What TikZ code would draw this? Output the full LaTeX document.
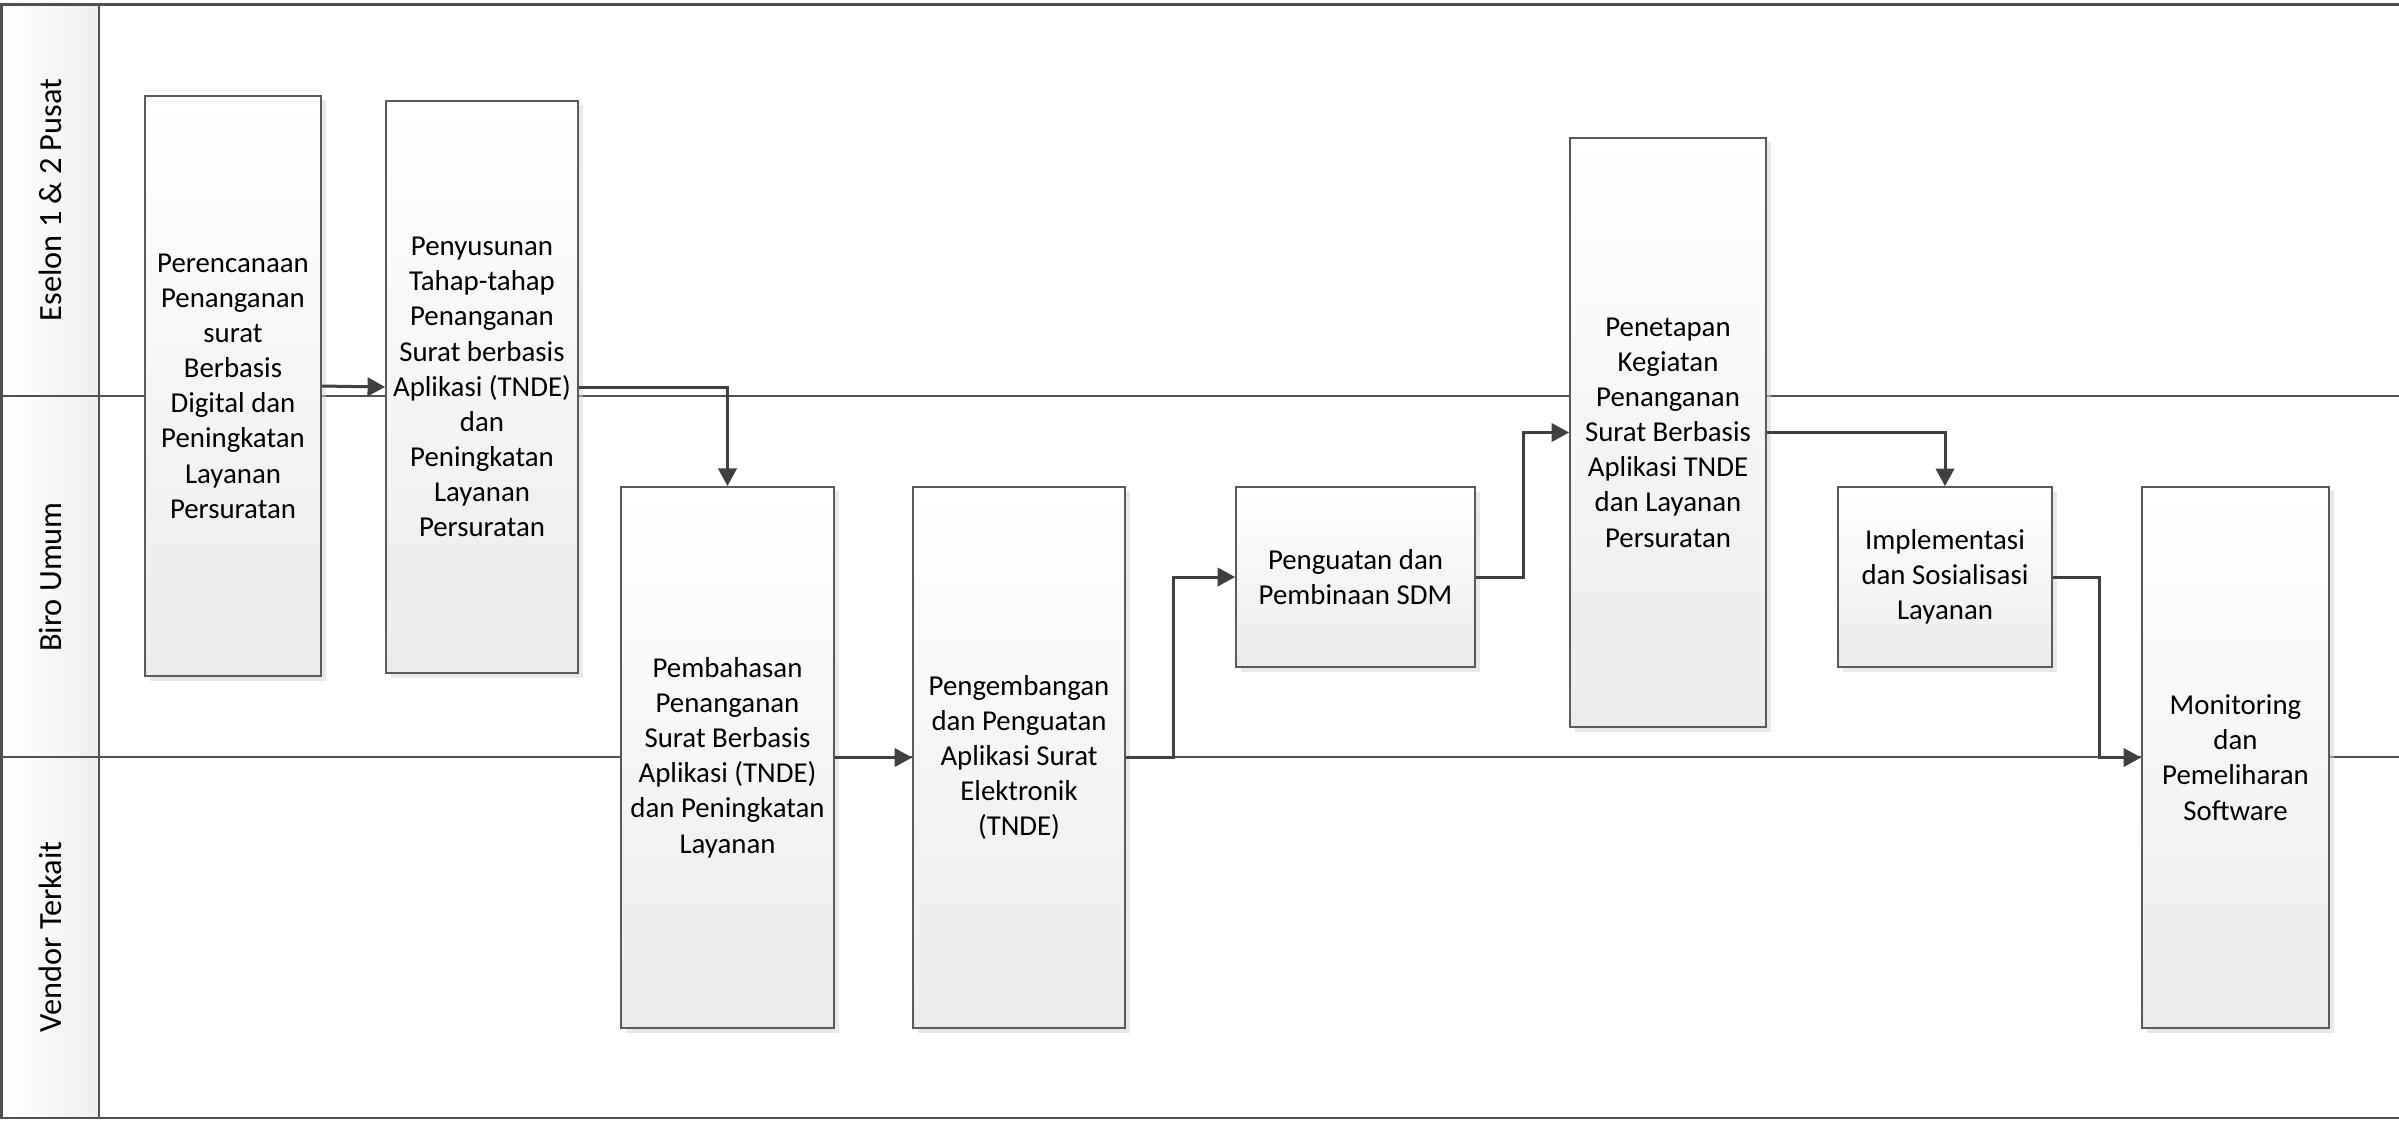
\documentclass[tikz,border=0pt]{standalone}
\usepackage{fontspec}
\setmainfont{Carlito}
\usepackage{tikz}
\usetikzlibrary{
  arrows.meta,
  positioning,
  shadows
}
\definecolor{laneline}{HTML}{505050}
\definecolor{boxline}{HTML}{5A5A5A}
\definecolor{connector}{HTML}{404040}
\definecolor{boxshade}{HTML}{EBEBEB}
\definecolor{headshade}{HTML}{EEEEEE}

\begin{document}
\begin{tikzpicture}[
  x=0.01cm, y=-0.01cm,
  lane/.style={draw=laneline, line width=0.7pt},
  lanelabel/.style={rotate=90, font=\fontsize{9.2}{11}\selectfont},
  activity/.style={
    draw=boxline, line width=0.45pt,
    top color=white, bottom color=boxshade,
    align=center, font=\fontsize{8.2}{10}\selectfont, inner sep=1pt,
    drop shadow={shadow xshift=1.3pt, shadow yshift=-1.3pt, fill=black!18},
  },
  arrow/.style={-{Triangle[length=5pt,width=5.2pt]}, draw=connector, line width=0.85pt},
]
\useasboundingbox (0,0) rectangle (2399,1120);

% Swimlanes
\fill[left color=white, right color=headshade] (1.5,4.6) rectangle (99,1118);
\draw[lane] (0,4.6) -- (2399,4.6);
\draw[lane] (0,396) -- (2399,396);
\draw[lane] (0,757) -- (2399,757);
\draw[lane] (0,1118) -- (2399,1118);
\draw[lane] (1.5,4.6) -- (1.5,1118);
\draw[lane] (99,4.6) -- (99,1118);

\node[lanelabel] (eselon) at (50,200) {Eselon 1 \& 2 Pusat};
\node[lanelabel] (biro) at (50,577) {Biro Umum};
\node[lanelabel] (vendor) at (50,937) {Vendor Terkait};

% Activities
\node[activity, minimum width=1.76cm, minimum height=5.80cm] (rencana) at (233,386) {
  Perencanaan\\Penanganan\\surat\\Berbasis\\Digital dan\\Peningkatan\\Layanan\\Persuratan
};
\node[activity, minimum width=1.92cm, minimum height=5.72cm] (susun) at (482,387) {
  Penyusunan\\Tahap-tahap\\Penanganan\\Surat berbasis\\Aplikasi (TNDE)\\dan\\Peningkatan\\Layanan\\Persuratan
};
\node[activity, minimum width=2.13cm, minimum height=5.41cm] (bahas) at (727.5,757.5) {
  Pembahasan\\Penanganan\\Surat Berbasis\\Aplikasi (TNDE)\\dan Peningkatan\\Layanan
};
\node[activity, minimum width=2.12cm, minimum height=5.41cm] (kembang) at (1019,757.5) {
  Pengembangan\\dan Penguatan\\Aplikasi Surat\\Elektronik\\(TNDE)
};
\node[activity, minimum width=2.39cm, minimum height=1.80cm] (sdm) at (1355.5,577) {
  Penguatan dan\\Pembinaan SDM
};
\node[activity, minimum width=1.96cm, minimum height=5.89cm] (tetap) at (1668,432.5) {
  Penetapan\\Kegiatan\\Penanganan\\Surat Berbasis\\Aplikasi TNDE\\dan Layanan\\Persuratan
};
\node[activity, minimum width=2.14cm, minimum height=1.80cm] (sosial) at (1945,577) {
  Implementasi\\dan Sosialisasi\\Layanan
};
\node[activity, minimum width=1.87cm, minimum height=5.41cm] (monitor) at (2235.5,757.5) {
  Monitoring\\dan\\Pemeliharan\\Software
};

% Flow
\draw[arrow] (rencana.east) -- (susun.west);
\draw[arrow] (susun.east) -| (bahas.north);
\draw[arrow] (bahas) -- (kembang);
\draw[arrow] (kembang.east) -- ++(48,0) |- (sdm.west);
\draw[arrow] (sdm.east) -- ++(48,0) |- (tetap.west);
\draw[arrow] (tetap.east) -| (sosial.north);
\draw[arrow] (sosial.east) -- ++(47,0) |- (monitor.west);

\end{tikzpicture}
\end{document}
